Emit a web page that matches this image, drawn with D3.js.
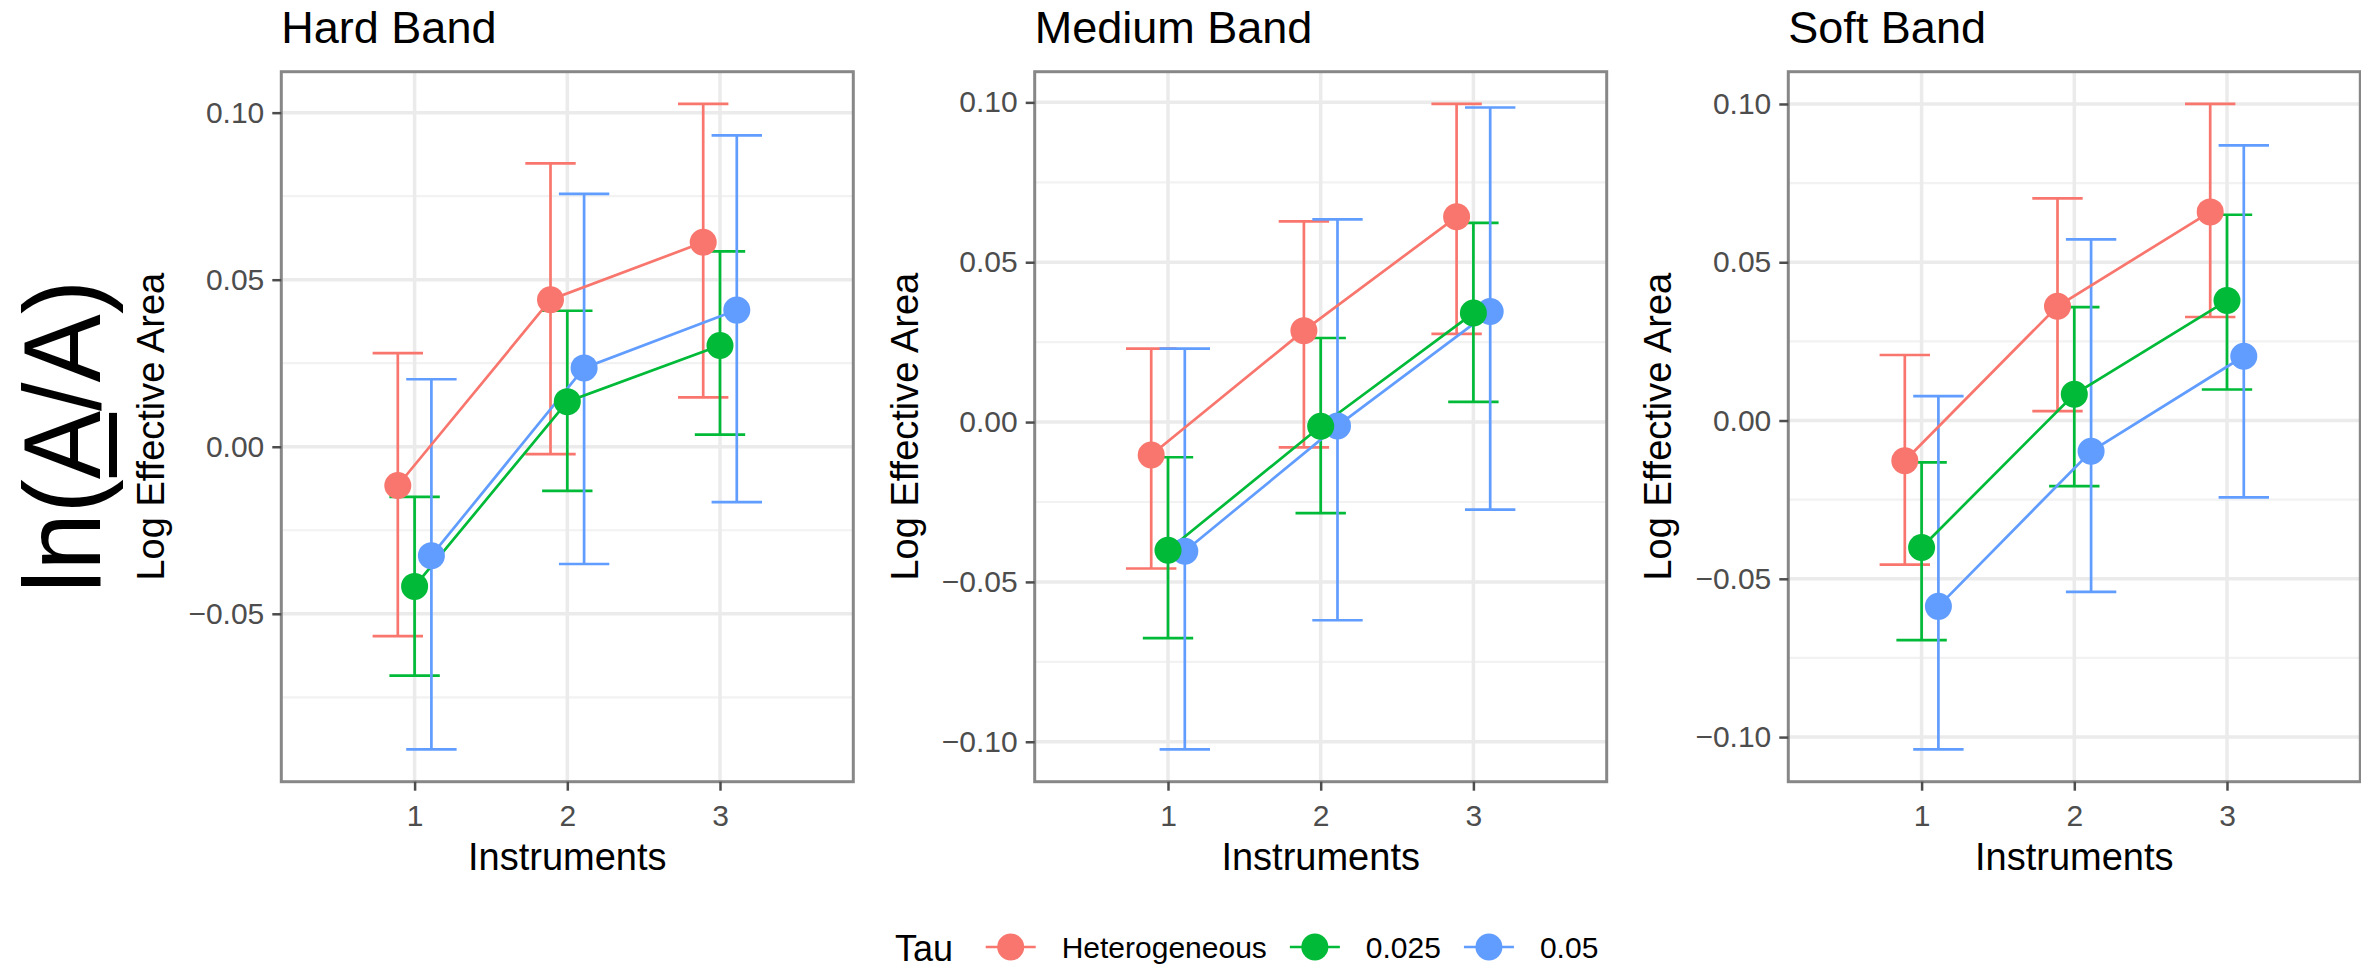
<!DOCTYPE html>
<html>
<head>
<meta charset="utf-8">
<script src="https://cdn.jsdelivr.net/npm/d3@7"></script>
<style>
  html, body { margin: 0; padding: 0; background: #ffffff; }
  svg { display: block; font-family: "Liberation Sans", Arial, Helvetica, sans-serif; }
</style>
</head>
<body>
<svg id="chart" width="2361" height="971"></svg>
<script>
// ---- data -------------------------------------------------------------
const bands = ["Hard Band", "Medium Band", "Soft Band"];
const instruments = [1, 2, 3];
const tauLevels = ["Heterogeneous", "0.025", "0.05"];
const tauColors = ["#F8766D", "#00BA38", "#619CFF"];

// rows follow tauLevels, columns follow instruments
const hardMean  = [[-0.0116, 0.0440, 0.0612], [-0.0418, 0.0135, 0.0303], [-0.0326, 0.0236, 0.0409]];
const hardLower = [[-0.0567, -0.0022, 0.0148], [-0.0685, -0.0132, 0.0036], [-0.0906, -0.0351, -0.0166]];
const hardUpper = [[0.0280, 0.0848, 0.1026], [-0.0150, 0.0407, 0.0585], [0.0202, 0.0757, 0.0932]];

const mediumMean  = [[-0.0103, 0.0286, 0.0642], [-0.0401, -0.0013, 0.0341], [-0.0404, -0.0012, 0.0346]];
const mediumLower = [[-0.0458, -0.0079, 0.0276], [-0.0676, -0.0285, 0.0063], [-0.1024, -0.0620, -0.0274]];
const mediumUpper = [[0.0230, 0.0628, 0.0995], [-0.0110, 0.0263, 0.0623], [0.0230, 0.0634, 0.0984]];

const softMean  = [[-0.0127, 0.0361, 0.0659], [-0.0401, 0.0083, 0.0379], [-0.0587, -0.0097, 0.0203]];
const softLower = [[-0.0455, 0.0030, 0.0327], [-0.0694, -0.0207, 0.0098], [-0.1039, -0.0541, -0.0243]];
const softUpper = [[0.0207, 0.0702, 0.1000], [-0.0132, 0.0358, 0.0650], [0.0077, 0.0572, 0.0869]];

const hardTicks   = [-0.05, 0, 0.05, 0.10];
const mediumTicks = [-0.10, -0.05, 0, 0.05, 0.10];
const softTicks   = [-0.10, -0.05, 0, 0.05, 0.10];

const xAxisTitle = "Instruments";
const yAxisTitle = "Log Effective Area";
const legendTitle = "Tau";

// ---- layout -----------------------------------------------------------
const panelLefts = [281.3, 1034.7, 1788.3];
const panelWidth = 572;
const panelTop = 71.7;
const panelBottom = 781.7;
const dodge = [-0.11, 0, 0.11];
const capHalf = 0.165;
const pointRadius = 13.5;
const markStroke = 2.7;

const panels = [
  { title: bands[0], mean: hardMean,   lower: hardLower,   upper: hardUpper,   ticks: hardTicks },
  { title: bands[1], mean: mediumMean, lower: mediumLower, upper: mediumUpper, ticks: mediumTicks },
  { title: bands[2], mean: softMean,   lower: softLower,   upper: softUpper,   ticks: softTicks }
];

const svg = d3.select("#chart");
svg.append("rect").attr("width", 2361).attr("height", 971).attr("fill", "#ffffff");

const fmt = d3.format(".2f");

panels.forEach((p, pi) => {
  const left = panelLefts[pi];
  const right = left + panelWidth;

  // y range padded by 5% of the error-bar span
  const lo = d3.min(p.lower.flat());
  const hi = d3.max(p.upper.flat());
  const pad = (hi - lo) * 0.05;
  const y = d3.scaleLinear().domain([lo - pad, hi + pad]).range([panelBottom, panelTop]);
  const x = d3.scaleLinear().domain([0.127, 3.873]).range([left, right]);

  const g = svg.append("g");

  // minor gridlines halfway between major breaks
  const step = p.ticks[1] - p.ticks[0];
  const minors = [];
  for (let v = p.ticks[0] - step / 2; v <= p.ticks[p.ticks.length - 1] + step; v += step) {
    if (v > y.domain()[0] && v < y.domain()[1]) minors.push(v);
  }
  g.selectAll(".minor").data(minors).join("line")
    .attr("x1", left).attr("x2", right)
    .attr("y1", d => y(d)).attr("y2", d => y(d))
    .attr("stroke", "#F2F2F2").attr("stroke-width", 2.2);

  g.selectAll(".majorY").data(p.ticks).join("line")
    .attr("x1", left).attr("x2", right)
    .attr("y1", d => y(d)).attr("y2", d => y(d))
    .attr("stroke", "#EBEBEB").attr("stroke-width", 3.5);

  g.selectAll(".majorX").data(instruments).join("line")
    .attr("x1", d => x(d)).attr("x2", d => x(d))
    .attr("y1", panelTop).attr("y2", panelBottom)
    .attr("stroke", "#EBEBEB").attr("stroke-width", 3.5);

  // error bars
  p.mean.forEach((row, k) => {
    const col = tauColors[k];
    const eb = g.append("g").attr("stroke", col).attr("stroke-width", markStroke).attr("fill", "none");
    instruments.forEach((inst, i) => {
      const cx = inst + dodge[k];
      eb.append("line")
        .attr("x1", x(cx)).attr("x2", x(cx))
        .attr("y1", y(p.lower[k][i])).attr("y2", y(p.upper[k][i]));
      eb.append("line")
        .attr("x1", x(cx - capHalf)).attr("x2", x(cx + capHalf))
        .attr("y1", y(p.upper[k][i])).attr("y2", y(p.upper[k][i]));
      eb.append("line")
        .attr("x1", x(cx - capHalf)).attr("x2", x(cx + capHalf))
        .attr("y1", y(p.lower[k][i])).attr("y2", y(p.lower[k][i]));
    });
  });

  // connecting lines
  p.mean.forEach((row, k) => {
    const line = d3.line()
      .x((d, i) => x(instruments[i] + dodge[k]))
      .y(d => y(d));
    g.append("path").attr("d", line(row))
      .attr("fill", "none").attr("stroke", tauColors[k]).attr("stroke-width", markStroke);
  });

  // points
  [2, 1, 0].forEach(k => {
    g.selectAll(null).data(p.mean[k]).join("circle")
      .attr("cx", (d, i) => x(instruments[i] + dodge[k]))
      .attr("cy", d => y(d))
      .attr("r", pointRadius)
      .attr("fill", tauColors[k]);
  });

  // panel border
  g.append("rect")
    .attr("x", left).attr("y", panelTop)
    .attr("width", panelWidth).attr("height", panelBottom - panelTop)
    .attr("fill", "none").attr("stroke", "#878787").attr("stroke-width", 3);

  // axes
  const yAxis = d3.axisLeft(y).tickValues(p.ticks).tickFormat(fmt).tickSize(9).tickPadding(8);
  const ya = g.append("g").attr("transform", `translate(${left},0)`).call(yAxis);
  ya.select(".domain").remove();
  ya.selectAll(".tick line").attr("stroke", "#4D4D4D").attr("stroke-width", 2.5);
  ya.selectAll(".tick text").attr("font-size", 30).attr("fill", "#4D4D4D")
    .attr("font-family", "Liberation Sans, Arial, sans-serif");

  const xAxis = d3.axisBottom(x).tickValues(instruments).tickFormat(d3.format("d")).tickSize(9).tickPadding(14);
  const xa = g.append("g").attr("transform", `translate(0,${panelBottom})`).call(xAxis);
  xa.select(".domain").remove();
  xa.selectAll(".tick line").attr("stroke", "#4D4D4D").attr("stroke-width", 2.5);
  xa.selectAll(".tick text").attr("font-size", 30).attr("fill", "#4D4D4D")
    .attr("font-family", "Liberation Sans, Arial, sans-serif");

  // titles
  g.append("text").attr("x", left).attr("y", 43)
    .attr("font-size", 45).attr("fill", "#000").text(p.title);

  g.append("text").attr("x", (left + right) / 2).attr("y", 870)
    .attr("text-anchor", "middle").attr("font-size", 38).attr("fill", "#000").text(xAxisTitle);

  g.append("text")
    .attr("transform", `translate(${left - 117},${(panelTop + panelBottom) / 2}) rotate(-90)`)
    .attr("text-anchor", "middle").attr("font-size", 38).attr("fill", "#000").text(yAxisTitle);
});

// ---- outer label ln(A/A) with the first A underlined ---------------------
const outer = svg.append("g").attr("transform", "translate(100,436.5) rotate(-90)");
const big = outer.append("text")
  .attr("x", 0).attr("y", 0)
  .attr("text-anchor", "middle")
  .attr("font-size", 110)
  .attr("fill", "#000")
  .attr("textLength", 313)
  .attr("lengthAdjust", "spacingAndGlyphs")
  .text("ln(A/A)");
const ext = big.node().getExtentOfChar(3);
outer.append("rect")
  .attr("x", ext.x + 2).attr("y", 9)
  .attr("width", ext.width - 4).attr("height", 8)
  .attr("fill", "#000");

// ---- legend -------------------------------------------------------------
const legend = svg.append("g");
legend.append("text").attr("x", 895).attr("y", 961)
  .attr("font-size", 36).attr("fill", "#000").text(legendTitle);

let keyX = 1010.7;
const keyY = 947;
tauLevels.forEach((lab, k) => {
  legend.append("line")
    .attr("x1", keyX - 25).attr("x2", keyX + 25)
    .attr("y1", keyY).attr("y2", keyY)
    .attr("stroke", tauColors[k]).attr("stroke-width", markStroke);
  legend.append("circle").attr("cx", keyX).attr("cy", keyY).attr("r", pointRadius)
    .attr("fill", tauColors[k]);
  const t = legend.append("text").attr("x", keyX + 51).attr("y", 958)
    .attr("font-size", 30).attr("fill", "#000").text(lab);
  const w = t.node().getComputedTextLength();
  keyX = keyX + 51 + w + 48;
});
</script>
</body>
</html>
